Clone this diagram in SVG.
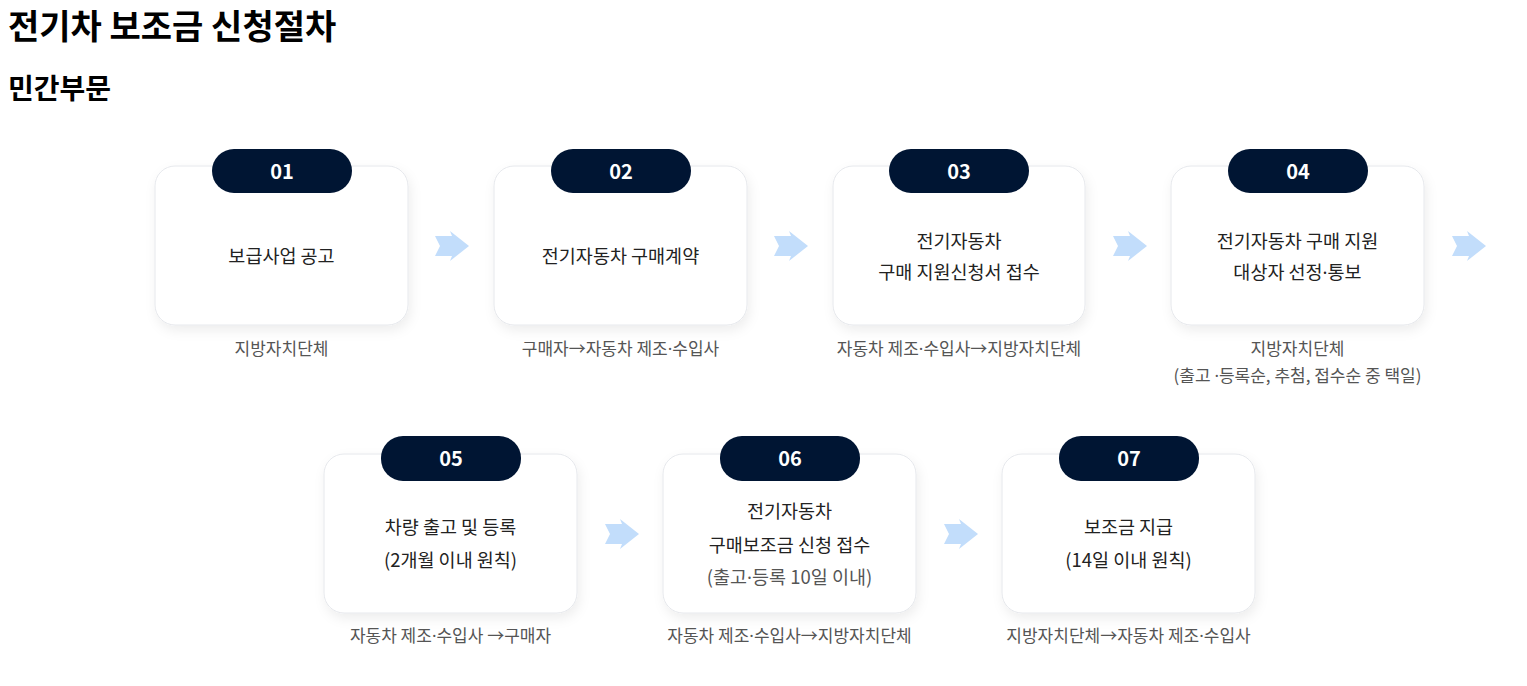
<svg xmlns="http://www.w3.org/2000/svg" width="1527" height="686" viewBox="0 0 1527 686">
<style>
text{font-family:"Noto Sans CJK KR","Noto Sans",sans-serif}
.title{font-size:34px;font-weight:700;fill:#000}
.sub{font-size:28px;font-weight:700;fill:#000}
.box{fill:#fff;stroke:#e6e8ec;stroke-width:1;filter:url(#sh)}
.badge{fill:#001533}
.num{font-size:20px;font-weight:600;fill:#fff;text-anchor:middle}
.lbl{font-size:18.5px;fill:#222;text-anchor:middle}
.cap{font-size:17px;fill:#555;text-anchor:middle}
.d{font-family:"Noto Sans",sans-serif}
.arr{fill:#c2ddfb}
</style>
<defs>
<filter id="sh" x="-20%" y="-20%" width="140%" height="150%">
<feDropShadow dx="2" dy="5" stdDeviation="6" flood-color="#000" flood-opacity="0.07"/>
</filter>
<polygon id="ar" points="0,5 17,5 15,0 34,15 15,30 17,25 0,25 5,15"/>
</defs>
<rect width="1527" height="686" fill="#fff"/>
<text class="title" x="8" y="39">전기차 보조금 신청절차</text>
<text class="sub" x="8" y="99">민간부문</text>

<g id="step01">
<rect class="box" x="155" y="166" width="253" height="159" rx="20"/>
<rect class="badge" x="212" y="149" width="140" height="44" rx="22"/>
<text class="num" x="282" y="179">01</text>
<text class="lbl" x="281.5" y="263">보급사업 공고</text>
<text class="cap" x="281.5" y="355">지방자치단체</text>
</g>
<g id="step02">
<rect class="box" x="494" y="166" width="253" height="159" rx="20"/>
<rect class="badge" x="551" y="149" width="140" height="44" rx="22"/>
<text class="num" x="621" y="179">02</text>
<text class="lbl" x="620.5" y="263">전기자동차 구매계약</text>
<text class="cap" x="620.5" y="355">구매자→자동차 제조<tspan class="d">·</tspan>수입사</text>
</g>
<g id="step03">
<rect class="box" x="833" y="166" width="252" height="159" rx="20"/>
<rect class="badge" x="889" y="149" width="140" height="44" rx="22"/>
<text class="num" x="959" y="179">03</text>
<text class="lbl" x="959" y="248">전기자동차</text>
<text class="lbl" x="959" y="279">구매 지원신청서 접수</text>
<text class="cap" x="959" y="355">자동차 제조<tspan class="d">·</tspan>수입사→지방자치단체</text>
</g>
<g id="step04">
<rect class="box" x="1171" y="166" width="253" height="159" rx="20"/>
<rect class="badge" x="1228" y="149" width="140" height="44" rx="22"/>
<text class="num" x="1298" y="179">04</text>
<text class="lbl" x="1297.5" y="248">전기자동차 구매 지원</text>
<text class="lbl" x="1297.5" y="279">대상자 선정<tspan class="d">·</tspan>통보</text>
<text class="cap" x="1297.5" y="355">지방자치단체</text>
<text class="cap" x="1297.5" y="382">(출고 <tspan class="d">·</tspan>등록순, 추첨, 접수순 중 택일)</text>
</g>
<g id="step05">
<rect class="box" x="324" y="454" width="253" height="159" rx="20"/>
<rect class="badge" x="381" y="436" width="140" height="45" rx="22"/>
<text class="num" x="451" y="466">05</text>
<text class="lbl" x="450.5" y="534">차량 출고 및 등록</text>
<text class="lbl" x="450.5" y="567">(2개월 이내 원칙)</text>
<text class="cap" x="450.5" y="642">자동차 제조<tspan class="d">·</tspan>수입사 →구매자</text>
</g>
<g id="step06">
<rect class="box" x="663" y="454" width="253" height="159" rx="20"/>
<rect class="badge" x="720" y="436" width="140" height="45" rx="22"/>
<text class="num" x="790" y="466">06</text>
<text class="lbl" x="789.5" y="518">전기자동차</text>
<text class="lbl" x="789.5" y="552">구매보조금 신청 접수</text>
<text class="lbl" x="789.5" y="584" style="fill:#555">(출고<tspan class="d">·</tspan>등록 10일 이내)</text>
<text class="cap" x="789.5" y="642">자동차 제조<tspan class="d">·</tspan>수입사→지방자치단체</text>
</g>
<g id="step07">
<rect class="box" x="1002" y="454" width="253" height="159" rx="20"/>
<rect class="badge" x="1059" y="436" width="140" height="45" rx="22"/>
<text class="num" x="1129" y="466">07</text>
<text class="lbl" x="1128.5" y="534">보조금 지급</text>
<text class="lbl" x="1128.5" y="567">(14일 이내 원칙)</text>
<text class="cap" x="1128.5" y="642">지방자치단체→자동차 제조<tspan class="d">·</tspan>수입사</text>
</g>

<g id="connectors">
<use href="#ar" class="arr" x="435" y="231"/>
<use href="#ar" class="arr" x="774" y="231"/>
<use href="#ar" class="arr" x="1113" y="231"/>
<use href="#ar" class="arr" x="1452" y="231"/>
<use href="#ar" class="arr" x="605" y="519"/>
<use href="#ar" class="arr" x="944" y="519"/>
</g>
</svg>
